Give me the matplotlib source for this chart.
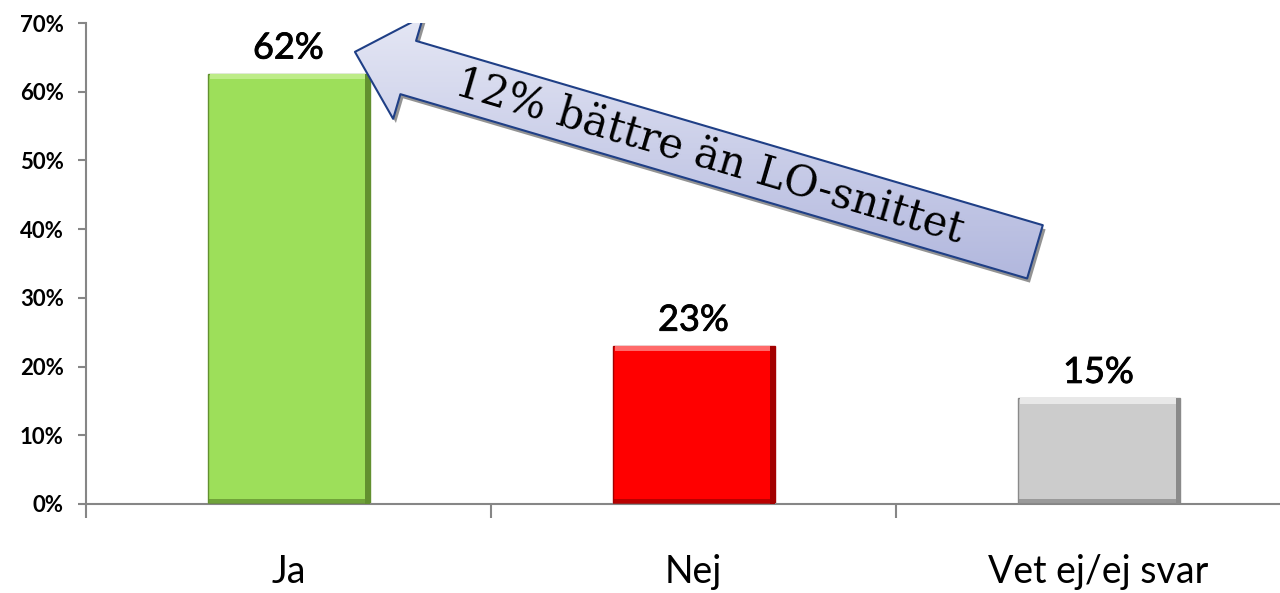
import numpy as np
import matplotlib
matplotlib.use("Agg")
import matplotlib.pyplot as plt
import matplotlib.patheffects as pe
from matplotlib.patches import FancyArrowPatch

# survey answers (share of respondents, %)
categories = ["Ja", "Nej", "Vet ej/ej svar"]
values = [62.6, 23.0, 15.4]
value_labels = ["62%", "23%", "15%"]
yticks = [0, 10, 20, 30, 40, 50, 60, 70]
ytick_labels = ["0%", "10%", "20%", "30%", "40%", "50%", "60%", "70%"]
note = "12% bättre än LO-snittet"

# body, top highlight, dark edge
bar_colors = ["#9ddf5a", "#ff0000", "#cccccc"]
light_colors = ["#bdec88", "#ff6a6a", "#e8e8e8"]
dark_colors = ["#62902f", "#a30000", "#8a8a8a"]

axis_gray = "#868686"

fig = plt.figure(figsize=(12.8, 5.93), dpi=100)
ax = fig.add_axes([86 / 1280, 89 / 593, 1194 / 1280, 481 / 593])

x = np.arange(len(categories))
w = 0.4

ax.bar(x, values, width=w, color=bar_colors, edgecolor=dark_colors, linewidth=1.0, zorder=2)
# bevel: light strip at the top, dark strip at the base and right side
ax.bar(x, [0.8] * 3, bottom=np.array(values) - 0.8, width=w - 0.014, color=light_colors,
       linewidth=0, zorder=3)
ax.bar(x, [0.8] * 3, width=w, color=dark_colors, linewidth=0, alpha=0.75, zorder=3)
ax.bar(x + w / 2 - 0.005, values, width=0.01, color=dark_colors, linewidth=0, zorder=3)

for xi, v, lab in zip(x, values, value_labels):
    ax.annotate(lab, (xi, v), xytext=(0, 11), textcoords="offset points",
                ha="center", va="baseline", fontsize=26, family="Lato", color="black",
                path_effects=[pe.withStroke(linewidth=0.6, foreground="black")])

ax.set_yticks(yticks)
ax.set_yticklabels(ytick_labels, fontsize=16, fontweight="bold", family="Lato")
ax.set_xticks([-0.5, 0.5, 1.5, 2.5])
ax.set_xticklabels([])
ax.set_xticks(x, minor=True)
ax.set_xticklabels(categories, minor=True, fontsize=27, family="Lato")

ax.tick_params(axis="y", length=6, width=1.5, color=axis_gray, pad=10)
ax.tick_params(axis="x", which="major", length=10, width=1.5, color=axis_gray)
ax.tick_params(axis="x", which="minor", length=0, pad=36)

for s in ["top", "right"]:
    ax.spines[s].set_visible(False)
for s in ["left", "bottom"]:
    ax.spines[s].set_color(axis_gray)
    ax.spines[s].set_linewidth(1.5)

# big callout arrow pointing at the "Ja" bar
tail = (1.843, 36.7)
tip = (0.164, 65.8)
style = "simple,head_length=4.0,head_width=7.7,tail_width=4.0"
arrow = FancyArrowPatch(tail, tip, arrowstyle=style, mutation_scale=10, shrinkA=0, shrinkB=0,
                        facecolor="#c9cde8", edgecolor="none", zorder=5,
                        path_effects=[pe.SimplePatchShadow(offset=(2, -3), shadow_rgbFace="#666666",
                                                           alpha=0.7), pe.Normal()])
ax.add_patch(arrow)

grad = np.linspace(0, 1, 256).reshape(-1, 1)
cmap = matplotlib.colors.LinearSegmentedColormap.from_list("arr", ["#e6e8f5", "#aeb4dc"])
im = ax.imshow(grad, extent=[0.1, 1.95, 30, 72], aspect="auto", cmap=cmap, zorder=6,
               origin="upper", interpolation="bilinear")
im.set_clip_path(arrow)

outline = FancyArrowPatch(tail, tip, arrowstyle=style, mutation_scale=10, shrinkA=0, shrinkB=0,
                          facecolor="none", edgecolor="#1f3f86", linewidth=1.5, zorder=7)
ax.add_patch(outline)

# limits last: set_xticks and imshow both change them
ax.set_xlim(-0.5, 2.448)
ax.set_ylim(0, 70)

# rotate the note along the arrow direction
p0 = ax.transData.transform(tail)
p1 = ax.transData.transform(tip)
angle = np.degrees(np.arctan2(p0[1] - p1[1], p0[0] - p1[0]))
ax.text(1.04, 50.6, note, rotation=angle, rotation_mode="anchor", ha="center", va="center",
        fontsize=30, family="DejaVu Serif", color="black", zorder=8)

fig.savefig("out.png", dpi=100)
